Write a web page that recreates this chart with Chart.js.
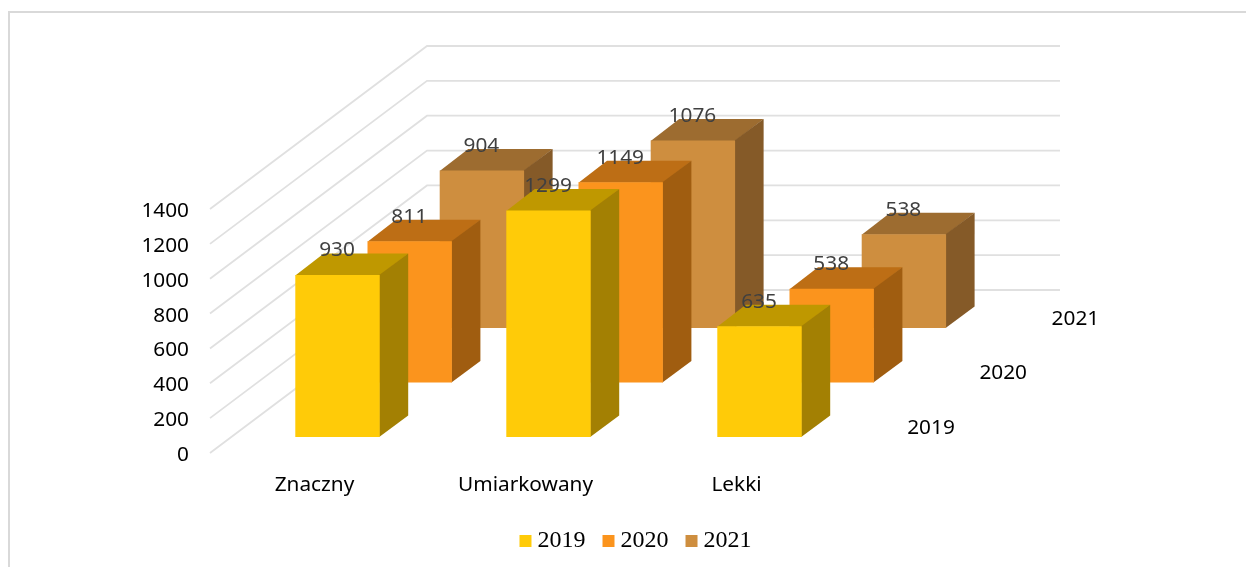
<!DOCTYPE html>
<html>
<head>
<meta charset="utf-8">
<style>html,body{margin:0;padding:0;background:#fff}canvas{display:block}</style>
<script src="https://cdn.jsdelivr.net/npm/chart.js@4"></script>
</head>
<body>
<canvas id="c" width="1246" height="567"></canvas>
<script>
const categories = ['Znaczny', 'Umiarkowany', 'Lekki'];
const seriesNames = ['2019', '2020', '2021'];
const values2019 = [930, 1299, 635];
const values2020 = [811, 1149, 538];
const values2021 = [904, 1076, 538];
const frontColors = ['#FFCB08', '#FB941D', '#CE8E3F'];
const topColors = ['#BF9800', '#BD6E15', '#9D6C30'];
const sideColors = ['#A38003', '#A05D10', '#855A28'];

const LABEL_FONT = '"Noto Sans", sans-serif';
const LABEL_SIZE = 20.8;
const slot = i => ({ x: i * 72.2, y: -i * 54.5 });
const DEPTH = { x: 28.5, y: -21.5 };

const scene3d = {
  id: 'scene3d',
  afterLayout(chart) {
    const lg = chart.legend;
    lg.left += 206; lg.right += 206;
    lg.top -= 4; lg.bottom -= 4;
  },
  beforeDatasetsDraw(chart) {
    const { ctx, chartArea: a, scales: { y } } = chart;
    ctx.save();
    ctx.strokeStyle = '#D9D9D9';
    ctx.lineWidth = 2;
    ctx.beginPath();
    ctx.moveTo(9, 567); ctx.lineTo(9, 12); ctx.lineTo(1246, 12);
    ctx.stroke();
    ctx.strokeStyle = '#E0E0E0';
    ctx.lineWidth = 1.8;
    y.ticks.forEach(t => {
      const py = y.getPixelForValue(t.value);
      ctx.beginPath();
      ctx.moveTo(a.left - 22, py + 16);
      ctx.lineTo(a.left + 195, py - 147);
      ctx.lineTo(a.right + 195, py - 147);
      ctx.stroke();
    });
    ctx.restore();
  },
  beforeDatasetDraw(chart, args) {
    const { ctx } = chart;
    const i = args.index, s = slot(i);
    ctx.save();
    ctx.translate(s.x, s.y);
    args.meta.data.forEach(el => {
      const p = el.getProps(['x', 'y', 'base', 'width'], true);
      const l = p.x - p.width / 2, r = p.x + p.width / 2;
      ctx.fillStyle = topColors[i];
      ctx.beginPath();
      ctx.moveTo(l, p.y + 0.5); ctx.lineTo(l + DEPTH.x, p.y + DEPTH.y);
      ctx.lineTo(r + DEPTH.x, p.y + DEPTH.y); ctx.lineTo(r, p.y + 0.5);
      ctx.closePath(); ctx.fill();
      ctx.fillStyle = sideColors[i];
      ctx.beginPath();
      ctx.moveTo(r - 0.5, p.y); ctx.lineTo(r + DEPTH.x, p.y + DEPTH.y);
      ctx.lineTo(r + DEPTH.x, p.base + DEPTH.y); ctx.lineTo(r - 0.5, p.base);
      ctx.closePath(); ctx.fill();
    });
  },
  afterDatasetDraw(chart) {
    chart.ctx.restore();
  },
  afterDatasetsDraw(chart) {
    const { ctx, chartArea: a } = chart;
    ctx.save();
    ctx.textAlign = 'center';
    ctx.textBaseline = 'middle';
    ctx.font = LABEL_SIZE + 'px ' + LABEL_FONT;
    chart.data.datasets.forEach((ds, i) => {
      const s = slot(i);
      ctx.fillStyle = '#000000';
      ctx.fillText(ds.label, a.right + 66 + s.x, a.bottom - 9 + s.y);
      ctx.fillStyle = '#404040';
      chart.getDatasetMeta(i).data.forEach((el, j) => {
        const p = el.getProps(['x', 'y'], true);
        ctx.fillText(String(ds.data[j]), p.x + s.x - 0.5, p.y + s.y - 24.5);
      });
    });
    ctx.restore();
  }
};

new Chart(document.getElementById('c'), {
  type: 'bar',
  plugins: [scene3d],
  data: {
    labels: categories,
    datasets: [values2019, values2020, values2021].map((data, i) => ({
      label: seriesNames[i],
      data,
      backgroundColor: frontColors[i],
      borderWidth: 0,
      clip: false
    }))
  },
  options: {
    responsive: false,
    animation: false,
    events: [],
    layout: { padding: { top: 193, right: 381, left: 0, bottom: 0 } },
    datasets: { bar: { grouped: false, barPercentage: 0.4, categoryPercentage: 1 } },
    plugins: {
      tooltip: { enabled: false },
      legend: {
        position: 'bottom',
        labels: {
          usePointStyle: true,
          pointStyle: 'rect',
          boxWidth: 0.01,
          boxHeight: 12,
          padding: 23,
          color: '#000000',
          font: { family: '"Liberation Serif", serif', size: 24 }
        }
      }
    },
    scales: {
      x: {
        grid: { display: false },
        border: { display: false },
        afterFit(s) { s.height = 73; },
        ticks: {
          color: '#000000',
          font: { family: LABEL_FONT, size: LABEL_SIZE },
          padding: 28,
          labelOffset: -23,
          maxRotation: 0,
          autoSkip: false
        }
      },
      y: {
        min: 0,
        max: 1400,
        grid: { display: false, drawTicks: false },
        border: { display: false },
        afterFit(s) { s.width = 232; },
        ticks: {
          stepSize: 200,
          color: '#000000',
          font: { family: LABEL_FONT, size: LABEL_SIZE },
          padding: 43,
          labelOffset: 18,
          callback: v => String(v)
        }
      }
    }
  }
});
</script>
</body>
</html>
